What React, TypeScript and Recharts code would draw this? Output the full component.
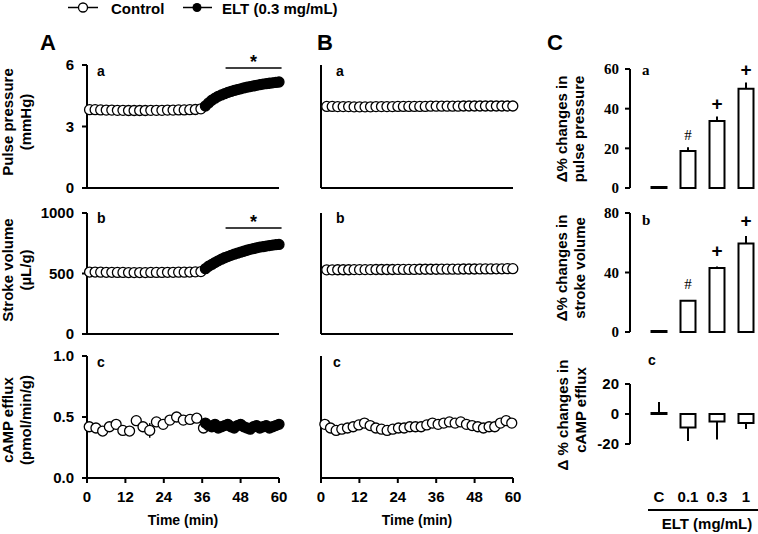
import React from 'react';
import { ComposedChart, Scatter, Bar, XAxis, YAxis, ErrorBar, ReferenceLine, LabelList } from 'recharts';

const SANS = '"Liberation Sans", Arial, sans-serif';
const SERIF = '"Liberation Serif", "Times New Roman", serif';

const timeTicks = [0, 12, 24, 36, 48, 60];

// sampling grid (minutes)
const grid = (start: number, step: number, n: number) => Array.from({ length: n }, (_, i) => start + i * step);

// --- column A: control period then ELT (0.3 mg/mL)
const ppControlA = [3.82, 3.82, 3.81, 3.8, 3.8, 3.79, 3.79, 3.78, 3.78, 3.78, 3.78, 3.79, 3.79, 3.79, 3.8, 3.8, 3.81, 3.81, 3.82, 3.83, 3.86];
const ppEltA = [4.0, 4.15, 4.28, 4.38, 4.47, 4.54, 4.6, 4.66, 4.71, 4.76, 4.8, 4.84, 4.88, 4.92, 4.95, 4.98, 5.01, 5.04, 5.07, 5.09, 5.11, 5.13, 5.15, 5.17];
const svControlA = [512, 512, 511, 510, 510, 509, 509, 508, 508, 508, 508, 509, 509, 509, 510, 510, 511, 511, 512, 514, 516];
const svEltA = [540, 560, 575, 590, 605, 618, 630, 640, 650, 660, 668, 676, 684, 692, 700, 706, 712, 718, 722, 727, 731, 735, 738, 740];
const campControlA = [0.42, 0.41, 0.385, 0.42, 0.44, 0.39, 0.385, 0.47, 0.42, 0.39, 0.46, 0.44, 0.475, 0.5, 0.475, 0.48, 0.49, 0.41];
const campControlAErr = [0.02, 0.02, 0.02, 0.02, 0.03, 0.02, 0.02, 0.04, 0.03, 0.06, 0.03, 0.02, 0.02, 0.03, 0.02, 0.02, 0.02, 0.04];
const campEltA = [0.45, 0.43, 0.42, 0.44, 0.41, 0.42, 0.43, 0.44, 0.42, 0.41, 0.43, 0.44, 0.42, 0.41, 0.4, 0.42, 0.43, 0.41, 0.42, 0.43, 0.41, 0.42, 0.43, 0.44];
const campEltAErr = [0.03, 0.03, 0.02, 0.03, 0.03, 0.02, 0.03, 0.03, 0.02, 0.03, 0.03, 0.02, 0.03, 0.03, 0.03, 0.02, 0.03, 0.03, 0.02, 0.03, 0.02, 0.03, 0.02, 0.02];

// --- column B: time control
const ppControlB = [3.98, 3.98, 3.97, 3.97, 3.97, 3.96, 3.96, 3.96, 3.96, 3.97, 3.97, 3.97, 3.97, 3.98, 3.98, 3.98, 3.98, 3.98, 3.98, 3.99, 3.99, 3.99, 3.99, 3.99, 3.99, 4.0, 4.0, 4.0, 4.0, 4.0, 4.0, 4.0, 4.0, 4.0, 4.0];
const svControlB = [530, 530, 531, 531, 531, 532, 532, 532, 532, 533, 533, 533, 533, 534, 534, 534, 534, 535, 535, 535, 535, 536, 536, 536, 536, 537, 537, 537, 538, 538, 538, 539, 539, 540, 540];
const campControlB = [0.44, 0.41, 0.39, 0.4, 0.41, 0.42, 0.435, 0.45, 0.43, 0.41, 0.4, 0.39, 0.4, 0.41, 0.41, 0.42, 0.42, 0.42, 0.435, 0.45, 0.44, 0.45, 0.46, 0.45, 0.46, 0.44, 0.43, 0.42, 0.41, 0.42, 0.42, 0.45, 0.47, 0.45];
const campControlBErr = [0.015, 0.015, 0.015, 0.015, 0.015, 0.015, 0.015, 0.015, 0.015, 0.015, 0.015, 0.015, 0.015, 0.015, 0.015, 0.015, 0.015, 0.015, 0.015, 0.015, 0.015, 0.015, 0.015, 0.015, 0.015, 0.015, 0.015, 0.015, 0.015, 0.015, 0.015, 0.015, 0.015, 0.015];

// --- column C: dose response
const doses = ['C', '0.1', '0.3', '1'];
const ppChange = [0.5, 18.7, 33.8, 50];
const ppChangeErr = [0, 1.8, 2.2, 3.2];
const svChange = [0, 21, 43, 59.5];
const svChangeErr = [0, 0.5, 1, 5];
const campChange = [0, -9, -5, -6];
const campChangeErr = [8, 9, 12, 4];
const sigMarks = ['', '#', '+', '+'];

const toPoints = (times: number[], vals: number[], errs?: number[]) =>
  vals.map((v, i) => ({ t: times[i], v, e: errs ? errs[i] : 0 }));

const axisStroke = { stroke: '#000', strokeWidth: 2 };

type Series = { points: { t: number; v: number; e: number }[]; filled: boolean; err?: boolean };

function TimePanel({ plotLeft, plotTop, plotBottom, yDomain, yTicks, yFormat, showY, showX, series, sig }: any) {
  const yw = 55;
  const mt = 12;
  const mr = 12;
  const xh = showX ? 30 : 8;
  const plotW = 192;
  const width = yw + plotW + mr;
  const height = mt + (plotBottom - plotTop) + xh;
  const tickStyle = { fill: '#000', fontSize: 15, fontWeight: 'bold', fontFamily: SANS };
  return (
    <div style={{ position: 'absolute', left: plotLeft - yw, top: plotTop - mt }}>
      <ComposedChart width={width} height={height} margin={{ top: mt, right: mr, left: 0, bottom: 0 }}>
        <XAxis type="number" dataKey="t" domain={[0, 60]} ticks={timeTicks} interval={0} height={xh} axisLine={axisStroke}
          tickLine={axisStroke} tickSize={5} tickMargin={8} tick={showX ? tickStyle : false} />
        <YAxis type="number" domain={yDomain} ticks={yTicks} interval={0} width={yw} axisLine={axisStroke} tickLine={axisStroke}
          tickSize={5} tickMargin={8} tick={showY ? tickStyle : false} tickFormatter={yFormat} />
        {series.map((s: Series, i: number) => (
          <Scatter key={i} data={s.points} dataKey="v" isAnimationActive={false}
            shape={(p: any) => <circle cx={p.cx} cy={p.cy} r={5} fill={s.filled ? '#000' : '#fff'} stroke="#000" strokeWidth={1.3} />}>
            {s.err && <ErrorBar dataKey="e" direction="y" width={0} stroke="#000" strokeWidth={1.5} />}
          </Scatter>
        ))}
        {sig && (
          <ReferenceLine segment={[{ x: sig.x1, y: sig.y }, { x: sig.x2, y: sig.y }]} ifOverflow="visible" stroke="#000" strokeWidth={1.5}
            label={{ value: '*', position: 'top', offset: 0, fill: '#000', fontSize: 18, fontWeight: 'bold', fontFamily: SANS }} />
        )}
      </ComposedChart>
    </div>
  );
}

function BarPanel({ plotTop, plotBottom, yDomain, yTicks, values, errs, marks, markOffset, tickFont, showX }: any) {
  const yw = 45;
  const mt = 14;
  const mb = showX ? 0 : 12;
  const plotLeft = 630;
  const plotW = 130.5;
  const xh = showX ? 66 : 0;
  const data = doses.map((d, i) => ({
    dose: d,
    v: values[i],
    err: values[i] < 0 ? [errs[i], 0] : [0, errs[i]],
    mark: marks ? marks[i] : '',
  }));
  const tickStyle = { fill: '#000', fontSize: 15, fontWeight: 'bold', fontFamily: tickFont };
  const renderMark = (props: any) => {
    const vb = props.viewBox || props;
    const { x, y, width, height } = vb;
    const i = props.index;
    const m = data[i] && data[i].mark;
    if (!m || !values[i]) return null;
    const pxPerUnit = height / values[i];
    const cy = y - errs[i] * pxPerUnit - markOffset;
    const isHash = m === '#';
    const fs = isHash ? 15 : 19;
    return (
      <text x={x + width / 2} y={cy + fs * 0.35} textAnchor="middle" fontSize={fs}
        fontWeight={isHash ? 'normal' : 'bold'} fontFamily={isHash ? SERIF : SANS} fill="#000">{m}</text>
    );
  };
  return (
    <div style={{ position: 'absolute', left: plotLeft - yw, top: plotTop - mt }}>
      <ComposedChart width={yw + plotW} height={mt + (plotBottom - plotTop) + xh + mb} data={data}
        margin={{ top: mt, right: 0, left: 0, bottom: mb }}>
        <XAxis dataKey="dose" type="category" padding={{ left: 14.5, right: 0 }} hide={!showX} height={xh} interval={0}
          axisLine={false} tickLine={false} tickSize={0} tickMargin={47} tick={tickStyle} />
        <YAxis type="number" domain={yDomain} ticks={yTicks} interval={0} width={yw} axisLine={axisStroke} tickLine={axisStroke}
          tickSize={5} tickMargin={6} tick={tickStyle} />
        <Bar dataKey="v" barSize={15} fill="#fff" stroke="#000" strokeWidth={2} minPointSize={1} isAnimationActive={false}>
          <ErrorBar dataKey="err" direction="y" width={0} stroke="#000" strokeWidth={2} />
          {marks && <LabelList dataKey="mark" content={renderMark} />}
        </Bar>
      </ComposedChart>
    </div>
  );
}

function VTitle({ x, y, text, size = 15 }: { x: number; y: number; text: string; size?: number }) {
  return (
    <text transform={`translate(${x},${y}) rotate(-90)`} textAnchor="middle" fontSize={size} fontWeight="bold" fontFamily={SANS} fill="#000">
      {text}
    </text>
  );
}

export default function App() {
  const ctlA = grid(0.8, 1.74, ppControlA.length);
  const eltA = grid(37, 1, ppEltA.length);
  const campCtlA = grid(0.7, 2.1, campControlA.length);
  const ctlB = grid(1.8, 1.71, ppControlB.length);
  const campCtlB = grid(1.2, 1.77, campControlB.length);

  const small = { fontSize: 14, fontWeight: 'bold' as const, fill: '#000' };

  return (
    <div style={{ position: 'absolute', left: 0, top: 0, width: 758, height: 534, overflow: 'hidden', background: '#fff' }}>
      {/* column A */}
      <TimePanel plotLeft={87} plotTop={65} plotBottom={188} yDomain={[0, 6]} yTicks={[0, 3, 6]} showY showX={false}
        series={[{ points: toPoints(ctlA, ppControlA), filled: false }, { points: toPoints(eltA, ppEltA), filled: true }]}
        sig={{ x1: 43.3, x2: 60.8, y: 5.85 }} />
      <TimePanel plotLeft={87} plotTop={213} plotBottom={334} yDomain={[0, 1000]} yTicks={[0, 500, 1000]} showY showX={false}
        series={[{ points: toPoints(ctlA, svControlA), filled: false }, { points: toPoints(eltA, svEltA), filled: true }]}
        sig={{ x1: 43.3, x2: 60.8, y: 876 }} />
      <TimePanel plotLeft={87} plotTop={356} plotBottom={478} yDomain={[0, 1]} yTicks={[0, 0.5, 1]} yFormat={(v: number) => v.toFixed(1)} showY showX
        series={[
          { points: toPoints(campCtlA, campControlA, campControlAErr), filled: false, err: true },
          { points: toPoints(eltA, campEltA, campEltAErr), filled: true, err: true },
        ]} />

      {/* column B */}
      <TimePanel plotLeft={321} plotTop={65} plotBottom={188} yDomain={[0, 6]} yTicks={[0, 3, 6]} showY={false} showX={false}
        series={[{ points: toPoints(ctlB, ppControlB), filled: false }]} />
      <TimePanel plotLeft={321} plotTop={213} plotBottom={334} yDomain={[0, 1000]} yTicks={[0, 500, 1000]} showY={false} showX={false}
        series={[{ points: toPoints(ctlB, svControlB), filled: false }]} />
      <TimePanel plotLeft={321} plotTop={356} plotBottom={478} yDomain={[0, 1]} yTicks={[0, 0.5, 1]} showY={false} showX
        series={[{ points: toPoints(campCtlB, campControlB, campControlBErr), filled: false, err: true }]} />

      {/* column C */}
      <BarPanel plotTop={69} plotBottom={188} yDomain={[0, 60]} yTicks={[0, 20, 40, 60]} values={ppChange} errs={ppChangeErr}
        marks={sigMarks} markOffset={13} tickFont={SERIF} />
      <BarPanel plotTop={213} plotBottom={332} yDomain={[0, 80]} yTicks={[0, 40, 80]} values={svChange} errs={svChangeErr}
        marks={sigMarks} markOffset={16} tickFont={SERIF} />
      <BarPanel plotTop={384} plotBottom={444} yDomain={[-20, 20]} yTicks={[-20, 0, 20]} values={campChange} errs={campChangeErr}
        tickFont={SANS} showX />

      {/* annotations */}
      <svg width={758} height={534} style={{ position: 'absolute', left: 0, top: 0, pointerEvents: 'none' }} fontFamily={SANS}>
        <line x1={68} y1={7.5} x2={98} y2={7.5} stroke="#000" strokeWidth={1.5} />
        <circle cx={83} cy={7.5} r={4.5} fill="#fff" stroke="#000" strokeWidth={1.3} />
        <text x={111} y={13.5} fontSize={15} fontWeight="bold" fill="#000">Control</text>
        <line x1={183} y1={7.5} x2={212} y2={7.5} stroke="#000" strokeWidth={1.5} />
        <circle cx={197} cy={7.5} r={4.5} fill="#000" />
        <text x={222} y={13.5} fontSize={15} fontWeight="bold" fill="#000">ELT (0.3 mg/mL)</text>

        <text x={40} y={50} fontSize={22} fontWeight="bold" fill="#000">A</text>
        <text x={317} y={50} fontSize={22} fontWeight="bold" fill="#000">B</text>
        <text x={547} y={50} fontSize={22} fontWeight="bold" fill="#000">C</text>

        <text x={97} y={76} {...small}>a</text>
        <text x={97} y={223} {...small}>b</text>
        <text x={97} y={367} {...small}>c</text>
        <text x={336} y={76} {...small}>a</text>
        <text x={336} y={223} {...small}>b</text>
        <text x={333} y={367} {...small}>c</text>
        <text x={642} y={75} {...small} fontFamily={SERIF} fontSize={15}>a</text>
        <text x={642} y={225} {...small} fontFamily={SERIF} fontSize={15}>b</text>
        <text x={648} y={365} {...small}>c</text>

        <VTitle x={13} y={122} text="Pulse pressure" />
        <VTitle x={31} y={122} text="(mmHg)" />
        <VTitle x={13} y={270} text="Stroke volume" />
        <VTitle x={31} y={270} text="(µL/g)" />
        <VTitle x={13} y={420} text="cAMP efflux" />
        <VTitle x={31} y={420} text="(pmol/min/g)" />

        <VTitle x={567} y={129} text="Δ% changes in" />
        <VTitle x={584} y={129} text="pulse pressure" />
        <VTitle x={567} y={268} text="Δ% changes in" />
        <VTitle x={585} y={268} text="stroke volume" />
        <VTitle x={568} y={415} text="Δ % changes in" />
        <VTitle x={586} y={410} text="cAMP efflux" />

        <text x={183} y={525} textAnchor="middle" fontSize={14} fontWeight="bold" fill="#000">Time (min)</text>
        <text x={417} y={525} textAnchor="middle" fontSize={14} fontWeight="bold" fill="#000">Time (min)</text>

        <line x1={648} y1={510} x2={758} y2={510} stroke="#000" strokeWidth={2} />
        <text x={707} y={529} textAnchor="middle" fontSize={15} fontWeight="bold" fill="#000">ELT (mg/mL)</text>
      </svg>
    </div>
  );
}
